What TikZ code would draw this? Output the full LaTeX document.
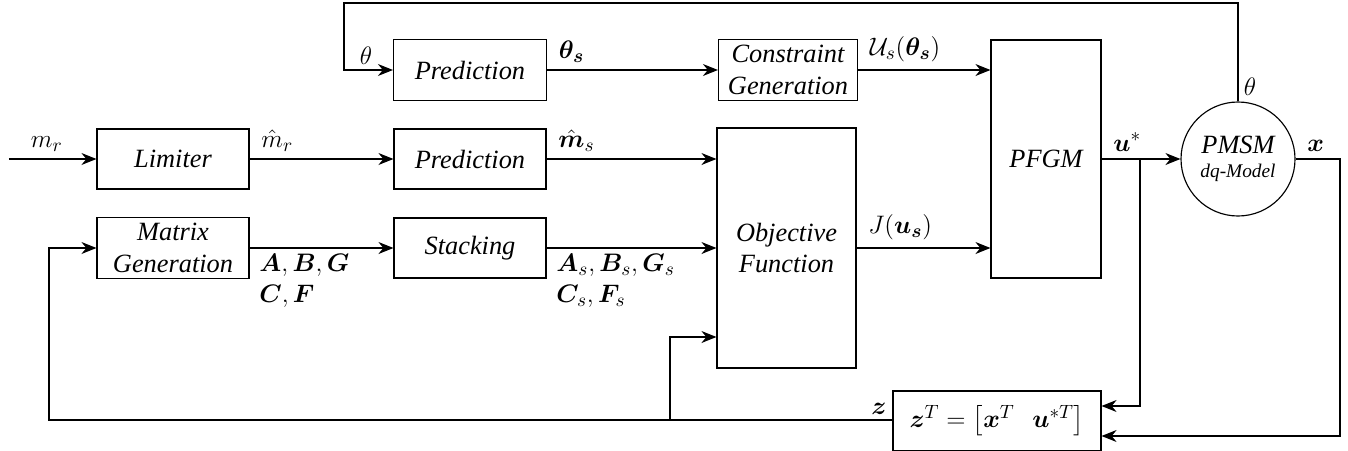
\documentclass[tikz,border=0pt]{standalone}
\usepackage{amsmath}
\usepackage{bm}
\usepackage{fontspec}
\setmainfont{Liberation Serif}
\usetikzlibrary{arrows.meta}

\newcommand{\diagfont}{\fontsize{15}{18}\selectfont}

\tikzset{
  block/.style={draw, minimum width=3.04cm, minimum height=1.2cm, align=center, font=\diagfont\itshape},
  lbl/.style={inner sep=3pt, font=\diagfont},
  sig/.style={lbl, anchor=south west, xshift=0.12cm, yshift=0.04cm},
  >={Stealth[length=3mm,width=2.4mm]}
}

\begin{document}
\begin{tikzpicture}[node distance=5.94cm, line width=0.65pt]
    \useasboundingbox (0,0) rectangle (26.96,-9);
    % middle rows
    \node (lim) [block] at (3.46,-3.18) {Limiter};
    \node (pred) [block, right of=lim] {Prediction};
    \node (mgen) [block, below of=lim, node distance=1.78cm] {Matrix\\Generation};
    \node (stack) [block, right of=mgen] {Stacking};
    % top row
    \node (thpred) [block, above of=pred, node distance=1.78cm, minimum width=3.06cm, minimum height=1.22cm] {Prediction};
    \node (cgen) [block, right of=thpred, node distance=6.36cm, minimum width=2.78cm, minimum height=1.22cm] {Constraint\\Generation};
    % optimiser and plant
    \node (obj) [block, right of=stack, node distance=6.33cm, minimum width=2.78cm, minimum height=4.8cm] {Objective\\Function};
    \node (pfgm) [block, right of=pred, node distance=11.52cm, minimum width=2.2cm, minimum height=4.76cm] {PFGM};
    \node (pmsm) [draw, circle, minimum size=2.28cm, align=center, font=\diagfont\itshape, right of=pfgm, node distance=3.84cm] {PMSM\\[-4pt]{\fontsize{11}{13}\selectfont dq-Model}};
    \node (zbox) [block, minimum width=4.16cm, font=\diagfont] at (19.94,-8.42) {$\bm{z}^T = \begin{bmatrix}\bm{x}^T & \bm{u}^{*T}\end{bmatrix}$};

    \coordinate (mrin) at (0.18,-3.18);
    \coordinate (fbtop) at (6.88,-0.06);
    \coordinate (ubr) at (22.8,-3.18);
    \coordinate (xc) at (26.8,-3.18);
    \coordinate (fbleft) at (0.98,-8.4);
    \coordinate (zbr) at (13.4,-8.4);

    \draw[->] (mrin) -- (lim);
    \draw[->] (lim) -- (pred);
    \draw[->] (pred) -- (pred -| obj.west);
    \draw[->] (mgen) -- (stack);
    \draw[->] (stack) -- (obj);
    \draw[->] (thpred) -- (cgen);
    \draw[->] (cgen) -- (cgen -| pfgm.west);
    \draw[->] (obj) -- (obj -| pfgm.west);
    \draw[->] (pfgm) -- (pmsm);
    \draw[->] (pmsm.north) |- (fbtop) |- (thpred.west);
    \draw[->] (ubr) |- ([yshift=0.3cm]zbox.east);
    \draw[->] (pmsm.east) -- (xc) |- ([yshift=-0.3cm]zbox.east);
    \draw[->] (zbox.west |- fbleft) -- (fbleft) |- (mgen.west);
    \draw[->] (zbr) |- ([yshift=-1.78cm]obj.west);

    % signal labels
    \node (lmr) [sig, xshift=0.2cm] at (mrin) {$m_r$};
    \node (lmrh) [sig] at (lim.east) {$\hat{m}_r$};
    \node (lmsh) [sig] at (pred.east) {$\hat{\bm{m}}_s$};
    \node (lths) [sig] at (thpred.east) {$\bm{\theta_s}$};
    \node (lus) [sig] at (cgen.east) {$\mathcal{U}_s(\bm{\theta_s})$};
    \node (lj) [sig] at (obj.east) {$J(\bm{u_s})$};
    \node (lu) [sig] at (pfgm.east) {$\bm{u}^*$};
    \node (lx) [sig] at (pmsm.east) {$\bm{x}$};
    \node (lth) [lbl, anchor=south west] at (pmsm.north) {$\theta$};
    \node (lthin) [lbl, anchor=south east, xshift=-0.3cm] at (thpred.west) {$\theta$};
    \node (lmat) [lbl, anchor=north west, align=left, xshift=0.08cm] at (mgen.east) {$\bm{A},\bm{B},\bm{G}$\\$\bm{C},\bm{F}$};
    \node (lmats) [lbl, anchor=north west, align=left, xshift=0.08cm] at (stack.east) {$\bm{A}_s,\bm{B}_s,\bm{G}_s$\\$\bm{C}_s,\bm{F}_s$};
    \node (lz) [lbl, anchor=south east] at (zbox.west |- fbleft) {$\bm{z}$};
\end{tikzpicture}
\end{document}
